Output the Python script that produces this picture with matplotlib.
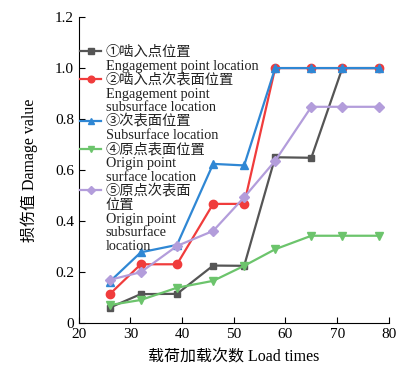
import matplotlib.pyplot as plt
from matplotlib.lines import Line2D

plt.rcParams['font.family'] = ['Liberation Serif', 'Noto Sans CJK SC']

# Load cycles and damage values at each position
load_times = [26, 32, 39, 46, 52, 58, 65, 71, 78]
engage_pt = [0.06, 0.113, 0.114, 0.225, 0.224, 0.65, 0.648, 1.0, 1.0]
engage_sub = [0.113, 0.23, 0.23, 0.467, 0.467, 1.0, 1.0, 1.0, 1.0]
subsurface = [0.162, 0.277, 0.306, 0.624, 0.618, 1.0, 1.0, 1.0, 1.0]
origin_surf = [0.07, 0.09, 0.138, 0.165, 0.224, 0.289, 0.342, 0.342, 0.342]
origin_sub = [0.169, 0.199, 0.302, 0.361, 0.493, 0.636, 0.848, 0.848, 0.848]

labels = [
    ["①啮入点位置", "Engagement point location"],
    ["②啮入点次表面位置", "Engagement point", "subsurface location"],
    ["③次表面位置", "Subsurface location"],
    ["④原点表面位置", "Origin point", "surface location"],
    ["⑤原点次表面", "位置", "Origin point", "subsurface", "location"],
]

fig = plt.figure(figsize=(3.98, 3.72), dpi=100)
ax = fig.add_axes([0.198, 0.132, 0.779, 0.822])

styles = [
    (engage_pt, '#555555', 's', 5),
    (engage_sub, '#f03c3c', 'o', 6),
    (subsurface, '#2f87d4', '^', 6),
    (origin_surf, '#6cc46c', 'v', 6),
    (origin_sub, '#b39ddb', 'D', 5),
]

handles, texts = [], []
blank = Line2D([], [], lw=0, marker=None)
for (vals, c, m, ms), lab in zip(styles, labels):
    line, = ax.plot(load_times, vals, color=c, marker=m, ms=ms, lw=1.6)
    # handle sits next to the first line of each label only
    handles.append(line)
    texts.append(lab[0])
    for extra in lab[1:]:
        handles.append(blank)
        texts.append(extra)

ax.set_xlim(20, 80)
ax.set_ylim(0, 1.2)
ax.set_xticks([20, 30, 40, 50, 60, 70, 80])
ax.set_yticks([0, 0.2, 0.4, 0.6, 0.8, 1.0, 1.2])
ax.set_yticklabels(['0', '0.2', '0.4', '0.6', '0.8', '1.0', '1.2'])
ax.tick_params(direction='in', labelsize=11, length=4, width=0.8)
ax.spines['top'].set_visible(False)
ax.spines['right'].set_visible(False)

ax.set_xlabel('载荷加载次数 Load times', fontsize=11.5, labelpad=6)
ax.set_ylabel('损伤值 Damage value', fontsize=11.5, labelpad=12)

leg = ax.legend(handles, texts, loc='upper left', bbox_to_anchor=(-0.015, 0.925),
                frameon=False, fontsize=10.3, handlelength=1.5, handletextpad=0.3,
                labelspacing=0.04, borderaxespad=0, markerscale=0.8)
for t in leg.get_texts():
    t.set_color('#222222')

fig.savefig('out.png', dpi=100)
